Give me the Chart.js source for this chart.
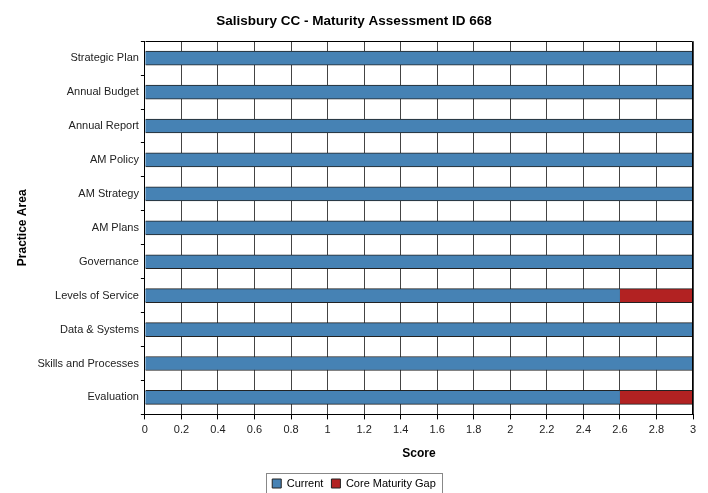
<!DOCTYPE html>
<html>
<head>
<meta charset="utf-8">
<script src="https://cdn.jsdelivr.net/npm/chart.js@4/dist/chart.umd.min.js"></script>
<style>
  html, body { margin: 0; padding: 0; background: #fff; }
  #wrap { width: 708px; height: 493px; }
</style>
</head>
<body>
<div id="wrap"><canvas id="maturityChart" width="708" height="493"></canvas></div>
<script>
const practiceAreas = [
  "Strategic Plan", "Annual Budget", "Annual Report", "AM Policy", "AM Strategy",
  "AM Plans", "Governance", "Levels of Service", "Data & Systems",
  "Skills and Processes", "Evaluation"
];
const currentScores = [3, 3, 3, 3, 3, 3, 3, 2.6, 3, 3, 2.6];
const coreGap = [0, 0, 0, 0, 0, 0, 0, 0.4, 0, 0, 0.4];
const scoreMin = 0;
const scoreMax = 3;
const scoreStep = 0.2;

const fontName = "'Liberation Sans', Arial, sans-serif";

// draws the plot frame and the box around the legend
const framePlugin = {
  id: "frame",
  afterDraw(chart) {
    const ctx = chart.ctx;
    const a = chart.chartArea;
    ctx.save();
    ctx.strokeStyle = "#000";
    ctx.lineWidth = 1;
    ctx.beginPath();
    ctx.moveTo(Math.round(a.left) + 0.5, Math.round(a.top) + 0.5);
    ctx.lineTo(Math.round(a.right) - 0.5, Math.round(a.top) + 0.5);
    ctx.lineTo(Math.round(a.right) - 0.5, Math.round(a.bottom) + 0.5);
    ctx.stroke();

    const boxes = chart.legend.legendHitBoxes;
    if (boxes && boxes.length) {
      const first = boxes[0];
      const last = boxes[boxes.length - 1];
      const x0 = first.left - 6;
      const x1 = last.left + last.width + 6;
      const y0 = first.top - 5;
      const y1 = first.top + first.height + 4;
      ctx.strokeStyle = "#888";
      ctx.strokeRect(Math.round(x0) + 0.5, Math.round(y0) + 0.5, Math.round(x1 - x0), Math.round(y1 - y0));
    }
    ctx.restore();
  }
};

new Chart(document.getElementById("maturityChart").getContext("2d"), {
  type: "bar",
  data: {
    labels: practiceAreas,
    datasets: [
      {
        label: "Current",
        data: currentScores,
        backgroundColor: "#4682B4",
        borderColor: "#222",
        borderWidth: { top: 1, bottom: 1, left: 0, right: 0 },
        borderSkipped: false,
        barThickness: 14,
      },
      {
        label: "Core Maturity Gap",
        data: coreGap,
        backgroundColor: "#B22222",
        borderColor: "#222",
        borderWidth: { top: 1, bottom: 1, left: 0, right: 0 },
        borderSkipped: false,
        barThickness: 14,
      },
    ],
  },
  options: {
    indexAxis: "y",
    responsive: false,
    animation: false,
    layout: { padding: { left: 15, right: 15, top: 2, bottom: -6 } },
    scales: {
      x: {
        stacked: true,
        min: scoreMin,
        max: scoreMax,
        ticks: {
          stepSize: scoreStep,
          color: "#222",
          font: { family: fontName, size: 11 },
          padding: 4,
          callback: function (value) {
            return String(Math.round(value * 10) / 10);
          },
        },
        grid: {
          color: "#444",
          lineWidth: 1,
          tickLength: 5,
          tickColor: "#000",
        },
        border: { color: "#000", width: 1 },
        title: {
          display: true,
          text: "Score",
          color: "#000",
          font: { family: fontName, size: 12, weight: "bold" },
          padding: { top: 6, bottom: 9 },
        },
      },
      y: {
        stacked: true,
        ticks: {
          color: "#222",
          font: { family: fontName, size: 11 },
          padding: 2,
        },
        grid: {
          offset: true,
          drawOnChartArea: false,
          tickLength: 4,
          tickColor: "#000",
        },
        border: { color: "#000", width: 1 },
        title: {
          display: true,
          text: "Practice Area",
          color: "#000",
          font: { family: fontName, size: 12, weight: "bold" },
          padding: { top: 0, bottom: 6 },
        },
      },
    },
    plugins: {
      title: {
        display: true,
        text: "Salisbury CC - Maturity Assessment ID 668",
        color: "#000",
        font: { family: fontName, size: 13.5, weight: "bold" },
        padding: { top: 11, bottom: 12 },
      },
      legend: {
        position: "bottom",
        labels: {
          boxWidth: 9,
          boxHeight: 9,
          color: "#000",
          font: { family: fontName, size: 11 },
          padding: 8,
          generateLabels: function (chart) {
            return chart.data.datasets.map((ds, i) => ({
              text: ds.label,
              fillStyle: ds.backgroundColor,
              strokeStyle: "#222",
              lineWidth: 1,
              datasetIndex: i,
            }));
          },
        },
      },
      tooltip: { enabled: false },
    },
  },
  plugins: [framePlugin],
});
</script>
</body>
</html>
